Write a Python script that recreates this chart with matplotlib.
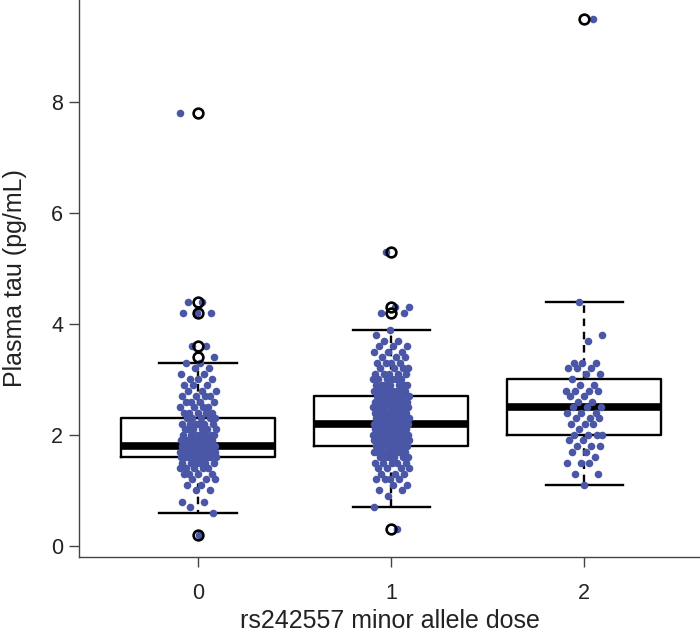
import numpy as np
import matplotlib
matplotlib.use("Agg")
import matplotlib.pyplot as plt

plt.rcParams['font.family'] = ['Liberation Sans', 'DejaVu Sans']

# groups (minor allele dose)
doses = [0, 1, 2]
tick_labels = ["0", "1", "2"]

# tau values per group, as value levels and how many subjects sit on each
levels_0 = [7.8, 4.4, 4.2, 3.6, 3.4, 3.3, 3.2, 3.1, 3.0, 2.9, 2.8, 2.7, 2.6, 2.5, 2.4,
            2.3, 2.2, 2.1, 2.0, 1.9, 1.8, 1.7, 1.6, 1.5, 1.4, 1.3, 1.2, 1.1, 1.0, 0.8,
            0.7, 0.6, 0.2]
counts_0 = [1, 2, 3, 2, 1, 2, 2, 2, 3, 3, 3, 4, 4, 4, 5,
            5, 6, 6, 7, 8, 16, 13, 12, 6, 5, 4, 3, 2, 2, 2,
            1, 1, 1]

levels_1 = [5.3, 4.3, 4.2, 3.9, 3.8, 3.7, 3.6, 3.5, 3.4, 3.3, 3.2, 3.1, 3.0, 2.9, 2.8,
            2.7, 2.6, 2.5, 2.4, 2.3, 2.2, 2.1, 2.0, 1.9, 1.8, 1.7, 1.6, 1.5, 1.4, 1.3,
            1.2, 1.1, 1.0, 0.9, 0.7, 0.3]
counts_1 = [1, 2, 2, 1, 1, 2, 3, 3, 3, 4, 4, 5, 6, 7, 8,
            8, 9, 10, 10, 11, 12, 12, 12, 11, 10, 8, 6, 5, 4, 3,
            4, 2, 2, 1, 1, 1]

levels_2 = [9.5, 4.4, 3.8, 3.7, 3.3, 3.2, 3.1, 3.0, 2.9, 2.8, 2.7, 2.6, 2.5, 2.4, 2.3,
            2.2, 2.1, 2.0, 1.9, 1.8, 1.7, 1.6, 1.5, 1.3, 1.1]
counts_2 = [1, 1, 1, 1, 3, 3, 2, 1, 2, 4, 2, 2, 3, 3, 3,
            3, 1, 4, 2, 3, 2, 1, 3, 2, 1]

# box summaries as drawn (R boxplot stats)
whisker_lo = [0.6, 0.7, 1.1]
q1 = [1.6, 1.8, 2.0]
median = [1.8, 2.2, 2.5]
q3 = [2.3, 2.7, 3.0]
whisker_hi = [3.3, 3.9, 4.4]
outliers = [[7.8, 4.4, 4.2, 3.6, 3.4, 0.2],
            [5.3, 4.3, 4.2, 0.3],
            [9.5]]

point_color = "#4A56A6"

groups = [np.repeat(levels_0, counts_0),
          np.repeat(levels_1, counts_1),
          np.repeat(levels_2, counts_2)]

fig = plt.figure(figsize=(7.0, 6.35), dpi=100)
ax = fig.add_axes([79 / 700, 78 / 635, 1 - 79 / 700, 1 - 78 / 635])

stats = []
for i in range(3):
    stats.append(dict(med=median[i], q1=q1[i], q3=q3[i],
                      whislo=whisker_lo[i], whishi=whisker_hi[i], fliers=[]))

ax.bxp(stats, positions=doses, widths=0.8, showfliers=False, zorder=2,
       boxprops=dict(color="black", linewidth=1.7),
       medianprops=dict(color="black", linewidth=5.5, solid_capstyle="butt"),
       whiskerprops=dict(color="black", linewidth=1.7, linestyle=(0, (3.2, 2.4))),
       capprops=dict(color="black", linewidth=1.7), capwidths=0.4)

# deterministic horizontal spread for the points
for i, vals in enumerate(groups):
    k = np.arange(len(vals))
    offs = ((k * 0.6180339887 + 0.37 * i) % 1.0 - 0.5) * 0.19
    ax.scatter(doses[i] + offs, vals, s=30, color=point_color, linewidths=0, zorder=3)

for i, outs in enumerate(outliers):
    ax.plot([doses[i]] * len(outs), outs, linestyle="none", marker="o",
            markersize=7, markerfacecolor="none", markeredgecolor="black",
            markeredgewidth=1.9, zorder=4)

ax.set_xlim(-0.617, 2.60)
ax.set_ylim(-0.2, 9.84)
ax.set_xticks(doses)
ax.set_xticklabels(tick_labels)
ax.set_yticks([0, 2, 4, 6, 8])

for side in ["top", "right"]:
    ax.spines[side].set_visible(False)
for side in ["left", "bottom"]:
    ax.spines[side].set_color("#444444")
    ax.spines[side].set_linewidth(1.0)

ax.tick_params(axis="both", direction="out", length=7.5, width=1.0, color="#444444",
               labelsize=15.5, labelcolor="#222222")
ax.tick_params(axis="x", pad=11)
ax.tick_params(axis="y", pad=4)

ax.set_xlabel("rs242557 minor allele dose", fontsize=18, color="#222222", labelpad=4)
ax.set_ylabel("Plasma tau (pg/mL)", fontsize=18, color="#222222", labelpad=17)

fig.savefig("out.png", dpi=100)
